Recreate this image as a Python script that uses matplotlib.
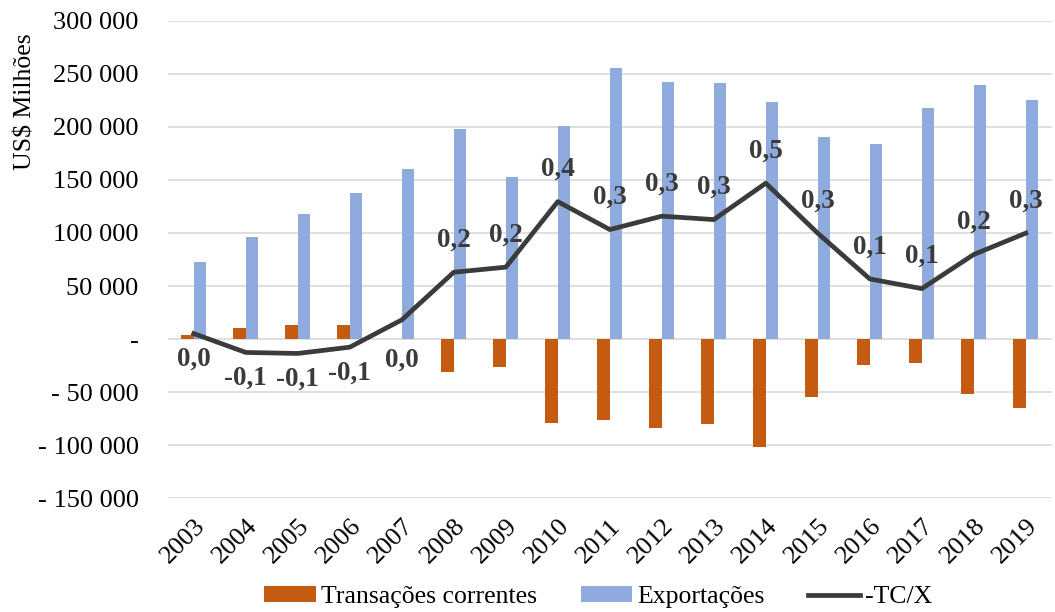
import numpy as np
import matplotlib
matplotlib.use("Agg")
import matplotlib.pyplot as plt
from matplotlib.ticker import FuncFormatter

plt.rcParams['font.family'] = ['Liberation Serif', 'DejaVu Serif']

anos = [str(a) for a in range(2003, 2020)]
transacoes = [3500, 10700, 13600, 12900, 400, -31100, -26700, -79200, -76700,
              -83500, -80500, -101900, -54700, -24800, -22300, -51900, -65100]
exportacoes = [72400, 95900, 118300, 137400, 160100, 197800, 153200, 201000, 255400,
               241900, 241200, 223600, 190000, 184000, 217900, 239300, 225800]

tc = np.array(transacoes, dtype=float)
x_exp = np.array(exportacoes, dtype=float)
razao = -tc / x_exp

c_tc = '#C55A11'
c_exp = '#8FAADC'
c_line = '#3B3B3B'

fig = plt.figure(figsize=(10.55, 6.12), dpi=100)
ax = fig.add_axes([0.159, 0.186, 0.838, 0.780])
x = np.arange(len(anos))
w = 0.24

ax.bar(x - w / 2, tc, w, color=c_tc, label='Transações correntes', zorder=2)
ax.bar(x + w / 2, x_exp, w, color=c_exp, label='Exportações', zorder=2)

ax.set_ylim(-150000, 300000)
ax.set_yticks(np.arange(-150000, 300001, 50000))
ax.set_xlim(-0.5, len(anos) - 0.5)


def fmt(v, pos):
    if v == 0:
        return '-'
    s = '{:,.0f}'.format(abs(v)).replace(',', ' ')
    return ('- ' + s) if v < 0 else s


ax.yaxis.set_major_formatter(FuncFormatter(fmt))
ax.grid(axis='y', color='#D9D9D9', lw=1.2, zorder=0)
ax.set_axisbelow(True)
for s in ax.spines.values():
    s.set_visible(False)
ax.tick_params(axis='both', length=0, labelsize=19)
ax.tick_params(axis='y', pad=21)
ax.tick_params(axis='x', pad=12)
ax.set_xticks(x)
ax.set_xticklabels(anos, rotation=45, ha='right', rotation_mode='anchor')
ax.set_ylabel('US$ Milhões', fontsize=18.5, loc='top')
ax.yaxis.set_label_coords(-0.148, 0.974)

ax2 = ax.twinx()
ax2.set_ylim(-0.6, 1.0)
ax2.plot(x, razao, color=c_line, lw=3.4, label='-TC/X', zorder=3)
ax2.set_yticks([])
for s in ax2.spines.values():
    s.set_visible(False)

for i, r in enumerate(razao):
    txt = '{:.1f}'.format(r).replace('.', ',')
    if txt == '-0,0':
        txt = '0,0'
    if i <= 4:
        off = -40 if i == 4 else -26
    else:
        off = 32
    ax2.annotate(txt, (x[i], r), xytext=(0, off), textcoords='offset pixels',
                 ha='center', va='center', fontsize=19.5, fontweight='bold', color=c_line)

h1, l1 = ax.get_legend_handles_labels()
h2, l2 = ax2.get_legend_handles_labels()
fig.legend(h1 + h2, l1 + l2, loc='center', bbox_to_anchor=(0.567, 0.024), ncol=3,
           frameon=False, fontsize=18.5, handlelength=2.0, handleheight=0.55,
           columnspacing=1.7, handletextpad=0.2)

fig.savefig('out.png', dpi=100)
